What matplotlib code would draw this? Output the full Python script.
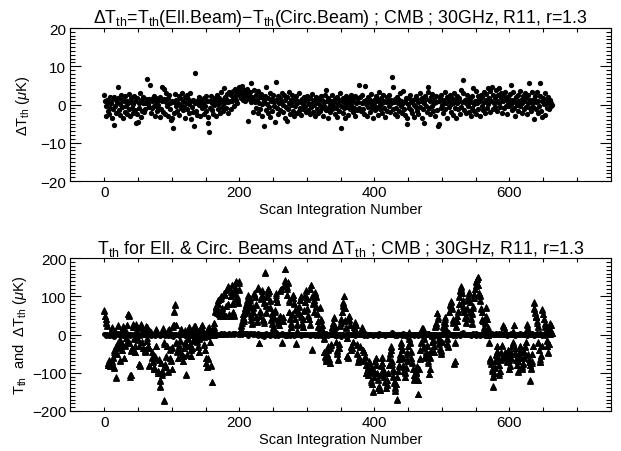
import numpy as np
import matplotlib
matplotlib.use('Agg')
import matplotlib.pyplot as plt
from matplotlib.ticker import MultipleLocator


# Data (values estimated point by point)

# Delta T_th = T_th(Ell.Beam) - T_th(Circ.Beam), micro K, one per scan integration
delta_t = [
    2.4, 0.8, -0.5, -3.1, 1.2, -1.8, 0.3, -2.6, 1.9, -0.9, 0.5, -3.4, 1.5, -1.2, 2.0, -5.3, -0.4, 1.1, -2.2, 0.7,
    4.7, 1.8, -1.5, 0.2, -2.8, 2.6, -0.6, 1.3, -3.6, 0.9, -1.9, 2.2, -0.3, 1.0, -2.4, 0.4, -1.1, 2.8, -3.0, 0.6,
    1.6, -0.8, -2.1, 0.1, 2.3, -1.4, 0.8, -4.9, -2.6, 1.7, -4.6, 0.3, -0.9, 2.9, -3.3, 1.2, -1.7, 0.5, 1.9, -2.0,
    0.4, -1.3, 1.5, 0.9, 6.8, 0.2, -0.7, 1.4, 5.2, -2.3, 0.8, -1.0, 1.7, -0.4, 2.1, -2.9, 0.6, 1.8, -1.6, 0.0,
    -0.8, 1.3, -3.2, 2.0, -1.2, 0.9, 4.7, -1.9, 4.0, 1.5, -2.4, 0.7, 3.1, -0.5, 1.8, -3.0, 2.4, -1.3, 0.3, -4.1,
    1.0, -3.5, -6.1, 0.6, -2.2, 2.7, -0.3, 1.2, -1.8, 0.4, 2.2, -2.7, 1.6, -0.9, 0.0, 3.0, -1.5, 0.8, -0.6, 1.9,
    -3.4, 0.5, 2.6, -1.1, 1.4, -2.3, 0.2, 2.9, -3.7, 0.9, -0.7, 1.3, -2.0, -5.5, 0.4, 8.2, -1.6, 0.7, -2.8, 1.1,
    -0.2, 2.0, -3.1, 0.6, 1.5, -1.0, 0.3, -2.4, 1.7, -0.5, 2.3, -1.8, 0.8, -4.9, -3.2, -7.2, 1.0, -0.8, 2.1, -1.4,
    0.5, -2.6, 1.3, -0.1, 1.8, -3.0, 0.9, 2.4, -1.2, 0.2, 1.6, -2.1, 0.7, 3.2, -0.6, 1.1, -1.7, 4.2, 0.4, 2.0,
    -0.9, 1.5, 2.8, -2.2, 0.6, 3.3, 1.0, -1.3, 2.5, 0.8, 3.6, 1.9, -0.4, 2.2, 4.1, 1.2, 3.0, 0.5, 2.7, 3.9,
    4.5, 2.1, 3.4, 1.6, 4.9, 2.8, 1.1, 3.7, 2.3, 0.9, 3.1, 1.8, 4.0, -4.2, 2.6, 1.4, 3.3, 5.5, 0.6, 2.0,
    1.5, -1.9, 3.8, 0.7, 2.4, -0.8, 1.2, 3.5, -2.3, 0.3, 1.9, -1.2, 2.7, 0.1, -3.0, 1.6, -5.6, 0.8, 2.2, -1.5,
    4.5, 0.2, -2.1, 1.7, -0.6, 3.0, -3.3, 0.9, 1.4, -1.8, 2.5, -0.3, 0.6, -4.7, 5.9, 1.1, -1.0, 2.2, -2.6, 0.4,
    1.8, -1.4, 0.7, 3.1, -2.0, 0.0, 2.4, -3.6, 1.2, -0.7, -4.4, 1.9, -1.1, 3.4, 0.5, -2.5, 1.3, -0.2, 2.6, -1.6,
    0.8, -3.1, 1.6, -0.5, 2.2, -2.2, 0.3, 1.0, -1.7, 2.9, -0.9, 0.6, -2.8, 1.5, 0.1, -1.3, 2.0, -0.4, 1.2, -2.0,
    0.9, 2.3, -1.5, 0.2, -2.6, 1.7, -0.6, 0.4, 2.8, -1.9, 1.1, -0.2, -3.0, 0.7, 1.9, -1.1, 0.5, -2.3, 1.4, 0.0,
    -1.6, 2.1, -0.8, 1.3, -2.9, 0.6, -0.3, 2.5, 3.8, -1.4, 0.8, -3.5, 1.6, -0.7, 0.3, -2.0, 1.0, -1.2, 2.4, -0.5,
    0.6, -2.5, 1.5, -0.9, 2.0, -3.2, 0.2, 1.2, -1.8, 3.0, -0.4, -6.2, 0.9, -2.2, 1.7, -1.0, 0.4, -3.4, 2.3, -0.6,
    1.1, -2.7, 0.5, 1.8, -1.3, 2.6, -0.2, 0.9, -2.0, 1.4, -0.8, 2.1, -3.0, 0.3, 1.6, -1.5, 0.7, 5.0, -0.9, 1.9,
    -1.7, 0.4, 2.5, -1.1, 0.8, -2.4, 4.8, 0.1, 1.3, -3.1, 2.0, -0.7, 1.5, -1.9, 0.6, 2.8, -1.0, 0.2, -3.6, 1.1,
    0.3, -1.5, 2.2, -0.6, 1.4, -2.8, 0.9, 3.2, -1.2, 0.0, 1.7, -2.2, 0.5, 2.6, -0.9, 1.0, -3.3, 0.7, 1.9, -1.6,
    0.8, -0.4, 2.4, -2.0, 1.2, 0.3, 7.2, 4.7, -1.3, 0.6, -2.6, 1.5, -0.8, 2.0, -3.0, 0.4, 1.3, -1.7, 2.9, -0.5,
    1.0, -2.3, 0.5, 3.6, -1.1, 0.9, -2.7, 1.6, -5.1, -3.4, 0.2, 1.8, -0.9, 2.4, -1.5, 0.7, -2.1, 1.1, 0.0, -3.2,
    1.4, -0.6, 2.1, -1.8, 0.6, -2.5, 1.2, 3.1, -0.7, 0.9, -3.6, 1.7, -1.2, 0.4, -4.9, 2.2, -0.3, 1.5, -2.0, 3.4,
    4.6, -1.0, 0.8, -2.6, 1.9, -0.5, 2.7, -1.7, 0.3, 1.2, -3.0, 0.6, 2.1, -1.4, -5.5, 0.9, -5.0, 1.6, -0.8, 2.5,
    -0.2, 1.3, -2.2, 0.7, 3.3, -1.1, 0.4, 2.0, -3.4, 1.5, -0.6, 0.9, 2.6, -1.9, 0.2, 1.7, -2.8, 0.5, 3.0, -0.9,
    1.2, -3.5, 0.3, 2.2, -1.3, 0.8, 1.6, -2.4, 3.7, -0.7, 0.6, 2.9, 6.5, -1.5, 1.1, -2.1, 0.4, 2.4, -0.5, 1.8,
    -2.0, 0.7, 1.5, -2.9, 2.3, -0.8, 4.3, 0.2, -1.7, 1.0, 3.5, -2.6, 0.5, 2.1, -1.2, 1.4, -3.0, 0.9, 2.6, -0.4,
    1.9, -1.5, 3.2, 0.6, -2.3, 1.3, 2.8, -0.9, 4.2, 0.1, 1.6, -2.0, 3.6, 0.8, 4.7, -1.1, 2.4, 0.3, 1.7, -0.6,
    3.9, 1.0, -1.8, 2.5, 0.4, 4.4, -0.7, 1.8, 3.1, -2.2, 0.9, 2.2, -1.0, 1.4, 3.4, -0.3, 2.0, -2.6, 0.7, 1.5,
    -0.5, 2.7, 0.2, 5.0, -1.4, 1.1, 3.3, -0.8, 0.6, -2.9, 1.9, 0.0, 2.4, -1.6, 0.8, 3.6, -0.4, 1.3, -2.1, 0.5,
    2.2, -1.2, 0.9, 3.0, -0.6, 1.6, -2.5, 0.3, 2.6, 5.6, -0.9, 1.2, -1.8, 3.4, 0.4, -0.7, -3.7, 1.5, 2.1, -1.3,
    0.6, 3.2, -2.2, 1.0, -0.4, 5.5, 2.3, -1.6, 0.8, -3.3, 1.7, 0.1, 3.1, -2.7, 0.5, 1.4, -0.8, 2.0, -1.1, 0.3,
    1.2, -0.5, 0.4, -0.2,
]

# T_th seen with the elliptical beam, micro K
t_ell = [
    65, 50, 40, 30, 25,
    -75, -80, -70, 5, -82, -78, -72, 20, -60, -85, -45, 10, -30,
    -113,
    -50, -20, 25, -35, -15, -70, 10, -40, -25, 20, -60, -30, 15, -10, -20,
    24, 55, 50, -20, -110, -105,
    -40, -35, 25, 20, -10, -30, -45, 22, 18, 5, -15, -30,
    -78, -80,
    25, 20, -20, -35, 15, 5, -40, -45, 22, 20, -10, -30, -35, -80, 10, 5,
    -45, -60, -70, -90, -85, -60, -30, 15, 5, -95, -100, -65,
    -137, -120,
    -75, -95, -100, 15, -20,
    -171,
    -80, -85, -55, -30, -95, 10, 15, -40, -60, -70, -90, -35, 20, 25,
    60, 81,
    25, -20, -45, -60, -40, -30, -15, 5, 15, -50, -70, -55, -35, -20, 10,
    -104,
    -50, -30, -10, 15, 20, -25, -40, -55, -35, -15, 5, 18, 22, 20, 12, -5, -20, -30, -45,
    -10, 0, 15, 20, 25, 10, -5, -25, -40, -60, -75, -85, -65, 15, 12, 5, -20, -80,
    -125,
    0, 15, 20, 30,
    61,
    70, 75, 60, 80, 90, 55, 50, 95, 100, 70, 60, 50, 55, 110, 105, 75, 50, 120,
    125, 80, 55, 50, 100, 115, 130, 85, 60, 50, 110, 125, 140, 100, 95, 85, 120, 140,
    5, 15, 25, 35, 45, 55, 40, 60, 70, 80, 65, 90, 100, 75,
    85, 95, 55, 40, 30, 60, 70, 110, 100, 80, 45, 35, 125, 120, -21, 50, 60, 95, 105, 115,
    40, 30, 85, 165, 75, 60,
    100, 110, 120, 115, 90, 70, 40, 30, 55, 20, 15, 45, 60, 110, 95, 85, 40, 30, 25, 50,
    115, 120, -18, 45, 35, 130, 140, 172,
    130, 120, 105, 136, 90, 60, 40, 30, 20, 55, 95, 105, 80, 65, 40, -21, 25, 10, 60, 55,
    75, 90, 100, 45, 30, 20, 40, 65, 85, 105, 115, 95, 70, 50, 40, 25, 120, 130, 100, -38,
    80, 60,
    90, 110, 100, 75, 55, 35, 20, 10, 5, 70, 40, 25, 15, 0, -10, -45, -55, -60, -70, -50,
    -40, -30, -65, -75, -35, -25, 20, 15, 30, 45,
    20, 10, -20, -40, -50, -65, -35, -25, 25, 40, 30, 60, 75, 85, 100, 70, 35, 20, -10, -55,
    -60, 50, 40, 25, -30,
    -40, -35, -20, 5, 20, 15, 30, 25, -25, -50, -70, -65, -60, -30, 10, 15, 20, -40, -45, -70,
    -55, -80, -100, -95, -105, -85, -70,
    -100, -75, -120, -130, -90, -150, -110, -95, -70, -60, -80, -100, -120, -140, -135, -145,
    -105, -80, -60, -75, -90, -100, -110, -125, -140, -130, -120, -100, -80, -60, -50, -30,
    -40, -70, -90, -110, -125, -140, -145, -130, -110, -172, -95, -80, -65, -50, -30, -20,
    -40, -60, -80, -95, -110, -100, -85, -70, -50, -30, -10, 5, -20, -45, -60, -75, -90, -105,
    -120, -110, -100, -95, -85, -156, -120, -90, -60, -40, -20, 10,
    17, 15, -10, -35, -55, -60, -45, -30, -50, -70, -104, -90, -60, -40, -20, 0, -15, -30,
    -45, 20, 30, 25, 56, 40, -10, -25, -35, -50, -40, -20,
    10, 20, 35, 45, 30, 15, -10, -25, -30, 5, 60, 81, 85, 75, 70, 30, 40, -74, -70, -20,
    20, 35, 50, 60, 80, 100, 115, 120, 126, 110,
    90, 75, 60, 45, 30, 50, 70, 90, 100, 110, 85, 60, 40, 30, 55, 75, 95, 105, 120, 130,
    139, 145, 152, 130, 110, 100, 90, 70, 60, 40,
    35, 20, 10, 30, 72, 50, 40, 20, 0, -20, -68, -60, -75, -90, -110, -135, -100, -85, -70, -50,
    -30, -45, -60, -80, -100, -95, -65, -45, -30, -55,
    26, 20, 10, -45, -60, -70, -55, -40, -65, -90, -80, -60, -45, -30, -20, 10, 25, -35, -50, -65,
    -80, -95, -70, -55, -40, -30, -60, -85, -90, -75,
    -60, -45, -30, -20, 10, 25, 15, -50, -65, -80, -119, -90, -70, -50, -30, 82, 70, 60, 45, 50,
    35, 20, -20, -40, -65, -70, -55, -30, 65, 55, 40, 30, 20, 10, -15, -30, -45, -25, 15, 30,
    25, 10, 5,
]

n_scan = min(len(delta_t), len(t_ell))
scan = np.arange(n_scan)
d_t = np.array(delta_t[:n_scan])
t_e = np.array(t_ell[:n_scan], dtype=float)
t_c = t_e - d_t           # circular beam, from the definition in the title

x_ticks = [0, 200, 400, 600]

plt.rcParams['font.family'] = ['Liberation Sans', 'DejaVu Sans']
plt.rcParams['mathtext.fontset'] = 'custom'
plt.rcParams['mathtext.rm'] = 'Liberation Sans'
plt.rcParams['mathtext.it'] = 'Liberation Sans:italic'
plt.rcParams['mathtext.sf'] = 'Liberation Sans'

fig = plt.figure(figsize=(6.21, 4.52), dpi=100)
ax1 = fig.add_axes([0.1135, 0.5973, 0.8699, 0.3385])
ax2 = fig.add_axes([0.1135, 0.0885, 0.8699, 0.3378])


def style_axis(ax, y_major, y_minor) :

    ax.set_xlim(-50, 750)
    ax.xaxis.set_major_locator(MultipleLocator(200))
    ax.xaxis.set_minor_locator(MultipleLocator(50))
    ax.yaxis.set_major_locator(MultipleLocator(y_major))
    ax.yaxis.set_minor_locator(MultipleLocator(y_minor))
    ax.tick_params(axis='both', which='both', direction='in', top=True, right=True, width=0.8, labelsize=11, pad=3)
    ax.tick_params(axis='x', which='both', length=3)
    ax.tick_params(axis='y', which='major', length=8)
    ax.tick_params(axis='y', which='minor', length=3.5)
    for sp in ax.spines.values() :
        sp.set_linewidth(0.8)
    ax.set_xlabel('Scan Integration Number', fontsize=10.5, labelpad=2)


# Step 1 : top panel, Delta T_th only

ax1.plot(scan, d_t, linestyle='none', marker='o', markersize=3.8, color='black', markeredgewidth=0)
ax1.set_ylim(-20, 20)
style_axis(ax1, 10, 1)
ax1.set_ylabel(r'$\Delta$T$_{\rm th}$ ($\mu$K)', fontsize=10.5, labelpad=6)
ax1.set_title(r'$\Delta$T$_{\rm th}$=T$_{\rm th}$(Ell.Beam)$-$T$_{\rm th}$(Circ.Beam) ; CMB ; 30GHz, R11, r=1.3',
              fontsize=12.8, pad=4)


# Step 2 : bottom panel, both beams (triangles) and their difference (dots)

ax2.plot(scan, t_e, linestyle='none', marker='^', markersize=4.6, color='black',
         markeredgecolor='black', markeredgewidth=0.6)
ax2.plot(scan, t_c, linestyle='none', marker='^', markersize=4.6, color='black',
         markeredgecolor='black', markeredgewidth=0.6)
ax2.plot(scan, d_t, linestyle='none', marker='o', markersize=3.6, color='black', markeredgewidth=0)
ax2.set_ylim(-200, 200)
style_axis(ax2, 100, 10)
ax2.set_ylabel(r'T$_{\rm th}$  and  $\Delta$T$_{\rm th}$ ($\mu$K)', fontsize=10.5, labelpad=2)
ax2.set_title(r'T$_{\rm th}$ for Ell. & Circ. Beams and $\Delta$T$_{\rm th}$ ; CMB ; 30GHz, R11, r=1.3',
              fontsize=12.8, pad=4)

ax1.set_xticks(x_ticks)
ax2.set_xticks(x_ticks)

fig.savefig('out.png', dpi=100)
